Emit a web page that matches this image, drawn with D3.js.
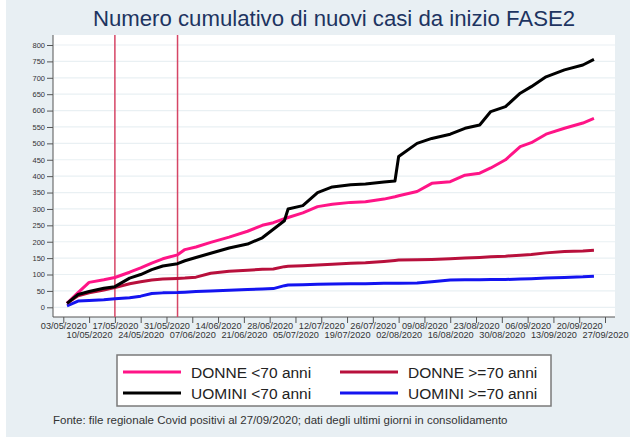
<!DOCTYPE html>
<html>
<head>
<meta charset="utf-8">
<script src="https://d3js.org/d3.v7.min.js"></script>
<style>
  body { margin: 0; background: #ffffff; }
  svg { display: block; font-family: "Liberation Sans", Arial, sans-serif; }
</style>
</head>
<body>
<script>

// dates of the readings (dd/mm/yyyy)
let dates = ['04/05/2020', '07/05/2020', '10/05/2020', '14/05/2020', '17/05/2020', '21/05/2020',
             '24/05/2020', '27/05/2020', '30/05/2020', '03/06/2020', '05/06/2020', '08/06/2020',
             '12/06/2020', '17/06/2020', '22/06/2020', '26/06/2020', '29/06/2020', '02/07/2020',
             '03/07/2020', '07/07/2020', '11/07/2020', '15/07/2020', '20/07/2020', '24/07/2020',
             '29/07/2020', '01/08/2020', '02/08/2020', '07/08/2020', '11/08/2020', '16/08/2020',
             '20/08/2020', '24/08/2020', '27/08/2020', '31/08/2020', '04/09/2020', '07/09/2020',
             '11/09/2020', '16/09/2020', '21/09/2020', '24/09/2020'];

let donneU70 = [12, 45, 76, 84, 91, 107, 120, 135, 148, 160, 176, 184, 198, 214, 232, 250, 258, 270,
                274, 288, 307, 314, 320, 322, 330, 337, 340, 353, 378, 383, 403, 409, 425, 450,
                490, 502, 528, 546, 562, 576];
let uominiU70 = [12, 39, 48, 58, 63, 89, 100, 115, 126, 133, 142, 152, 165, 181, 193, 212, 238, 264,
                 300, 310, 350, 367, 374, 376, 382, 385, 460, 500, 515, 528, 546, 556, 597, 612,
                 653, 673, 703, 724, 739, 756];
let donneO70 = [12, 35, 44, 53, 60, 72, 78, 83, 86, 88, 89, 92, 104, 110, 113, 116, 117, 124,
                125, 127, 129, 131, 134, 136, 140, 143, 144, 145, 146, 148, 150, 152, 154, 156,
                159, 161, 166, 170, 172, 174];
let uominiO70 = [4, 19, 21, 23, 26, 29, 34, 42, 44, 45, 46, 48, 50, 52, 54, 56, 57, 66,
                 68, 69, 70, 71, 72, 72, 73, 73, 73, 74, 78, 83, 84, 84, 85, 85,
                 86, 87, 89, 91, 93, 95];

let seriesNames = ['DONNE <70 anni', 'DONNE >=70 anni', 'UOMINI <70 anni', 'UOMINI >=70 anni'];
let seriesColors = ['#ff1487', '#b8103c', '#000000', '#1414f0'];

let xTicks = ['03/05/2020', '10/05/2020', '17/05/2020', '24/05/2020', '31/05/2020', '07/06/2020',
              '14/06/2020', '21/06/2020', '28/06/2020', '05/07/2020', '12/07/2020', '19/07/2020',
              '26/07/2020', '02/08/2020', '09/08/2020', '16/08/2020', '23/08/2020', '30/08/2020',
              '06/09/2020', '13/09/2020', '20/09/2020', '27/09/2020'];
let yTicks = d3.range(0, 801, 50);

// start of FASE2 steps
let markers = ['17/05/2020', '03/06/2020'];

const parse = d3.utcParse('%d/%m/%Y');
const WIDTH = 630;
const HEIGHT = 440;
const PLOT = {left: 53, right: 615, top: 35, bottom: 317};

const SVG = d3.select('body')
              .append('svg')
              .attr('width', WIDTH)
              .attr('height', HEIGHT);

// background panel
SVG.append('rect')
   .attr('x', 6).attr('y', 0)
   .attr('width', WIDTH - 6).attr('height', 437)
   .attr('fill', '#e8eff3');

SVG.append('rect')
   .attr('x', PLOT.left).attr('y', PLOT.top)
   .attr('width', PLOT.right - PLOT.left).attr('height', PLOT.bottom - PLOT.top)
   .attr('fill', '#ffffff');

SVG.append('text')
   .attr('x', 334).attr('y', 26)
   .attr('text-anchor', 'middle')
   .attr('font-size', 22.2)
   .attr('fill', '#1d3461')
   .text('Numero cumulativo di nuovi casi da inizio FASE2');

const xScale = d3.scaleUtc()
                 .domain([parse(xTicks[0]), parse(xTicks[xTicks.length - 1])])
                 .range([63.3, 605]);
const yScale = d3.scaleLinear()
                 .domain([0, 800])
                 .range([307.3, 45]);

// grid
SVG.append('g')
   .selectAll('line')
   .data(yTicks)
   .enter()
   .append('line')
   .attr('x1', PLOT.left + 1).attr('x2', PLOT.right)
   .attr('y1', d => yScale(d)).attr('y2', d => yScale(d))
   .attr('stroke', '#e9f0f3')
   .attr('stroke-width', 1.2);

// axes
let yAxis = d3.axisLeft(yScale).tickValues(yTicks).tickSize(6).tickSizeOuter(0);
let yG = SVG.append('g')
            .attr('transform', 'translate(' + PLOT.left + ',0)')
            .call(yAxis);
yG.select('.domain').attr('d', 'M0,' + PLOT.top + 'V' + PLOT.bottom).attr('stroke', '#555');
yG.selectAll('.tick line').attr('stroke', '#555');
yG.selectAll('.tick text')
  .attr('font-size', 7.5)
  .attr('font-family', '"Liberation Sans", Arial, sans-serif')
  .attr('fill', '#333')
  .attr('x', -8);

let xAxis = d3.axisBottom(xScale)
              .tickValues(xTicks.map(parse))
              .tickFormat(d3.utcFormat('%d/%m/%Y'))
              .tickSize(6).tickSizeOuter(0);
let xG = SVG.append('g')
            .attr('transform', 'translate(0,' + PLOT.bottom + ')')
            .call(xAxis);
xG.select('.domain').attr('d', 'M' + PLOT.left + ',0H' + PLOT.right).attr('stroke', '#555');
xG.selectAll('.tick line').attr('stroke', '#555');
xG.selectAll('.tick text')
  .attr('font-size', 9.2)
  .attr('font-family', '"Liberation Sans", Arial, sans-serif')
  .attr('fill', '#333')
  .attr('y', (d, i) => i % 2 === 0 ? 12 : 21)
  .attr('dy', 0);

// FASE2 markers
SVG.selectAll('.marker')
   .data(markers)
   .enter()
   .append('line')
   .attr('class', 'marker')
   .attr('x1', d => xScale(parse(d))).attr('x2', d => xScale(parse(d)))
   .attr('y1', PLOT.top).attr('y2', PLOT.bottom)
   .attr('stroke', '#d64565')
   .attr('stroke-width', 1.5);

// series lines
let seriesValues = [donneU70, donneO70, uominiU70, uominiO70];
let drawOrder = [3, 1, 0, 2];
const line = d3.line()
               .x((d, i) => xScale(parse(dates[i])))
               .y(d => yScale(d));

for (let k = 0; k < drawOrder.length; k++) {
  let s = drawOrder[k];
  SVG.append('path')
     .attr('d', line(seriesValues[s]))
     .attr('fill', 'none')
     .attr('stroke', seriesColors[s])
     .attr('stroke-width', 3)
     .attr('stroke-linejoin', 'round');
}

// legend
SVG.append('rect')
   .attr('x', 117).attr('y', 355)
   .attr('width', 434).attr('height', 51)
   .attr('fill', '#ffffff')
   .attr('stroke', '#7a7a7a')
   .attr('stroke-width', 1.5);

let legendPos = [[123, 372], [340, 372], [123, 393], [340, 393]];
for (let i = 0; i < seriesNames.length; i++) {
  let p = legendPos[i];
  SVG.append('line')
     .attr('x1', p[0]).attr('x2', p[0] + 58)
     .attr('y1', p[1]).attr('y2', p[1])
     .attr('stroke', seriesColors[i])
     .attr('stroke-width', 3);
  SVG.append('text')
     .attr('x', p[0] + 68).attr('y', p[1] + 5.5)
     .attr('font-size', 15.5)
     .attr('fill', '#222')
     .text(seriesNames[i]);
}

SVG.append('text')
   .attr('x', 53).attr('y', 424)
   .attr('font-size', 11.5)
   .attr('fill', '#333')
   .text('Fonte: file regionale Covid positivi al 27/09/2020; dati degli ultimi giorni in consolidamento');

</script>
</body>
</html>
